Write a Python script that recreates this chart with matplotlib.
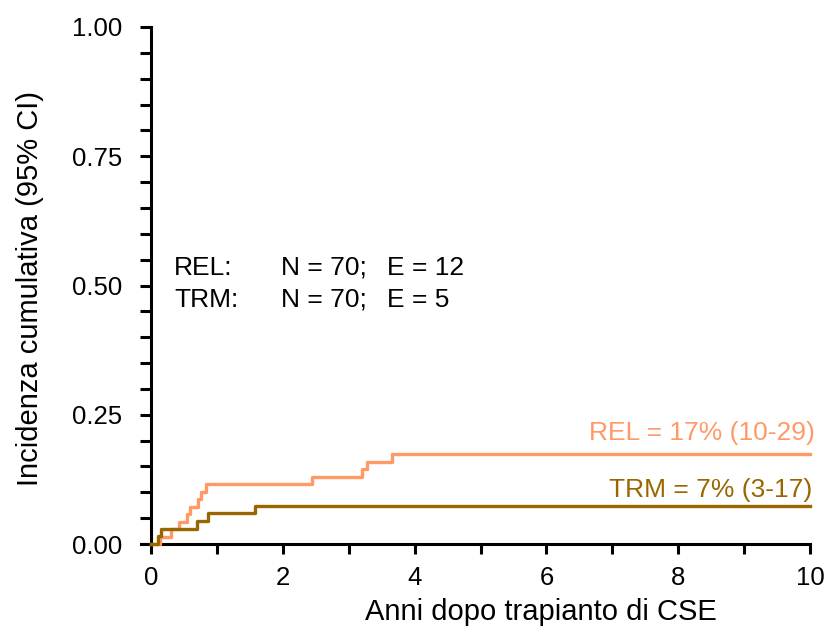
import matplotlib
matplotlib.use("Agg")
import matplotlib.pyplot as plt
from matplotlib.ticker import MultipleLocator

plt.rcParams['font.family'] = ['Liberation Sans', 'DejaVu Sans']

# Cumulative incidence curves (step functions)
rel_times = [0, 0.13, 0.30, 0.43, 0.55, 0.59, 0.71, 0.76, 0.84, 2.44, 3.20, 3.27, 3.65, 10]
rel_values = [0, 0.0145, 0.029, 0.0435, 0.058, 0.0725, 0.087, 0.1015, 0.116,
              0.1305, 0.145, 0.1595, 0.174, 0.174]

trm_times = [0, 0.11, 0.15, 0.70, 0.86, 1.58, 10]
trm_values = [0, 0.0148, 0.0296, 0.0444, 0.0592, 0.074, 0.074]

rel_color = '#FF9966'
trm_color = '#996600'

fig = plt.figure(figsize=(8.24, 6.26), dpi=100)
ax = fig.add_axes([141 / 824, 1 - 544 / 626, (810 - 141) / 824, (544 - 27) / 626])

ax.step(rel_times, rel_values, where='post', color=rel_color, lw=2.4, clip_on=False, zorder=3)
ax.step(trm_times, trm_values, where='post', color=trm_color, lw=2.4, clip_on=False, zorder=3)

ax.set_xlim(-0.152, 10)
ax.set_ylim(0, 1)
ax.spines['left'].set_position(('data', 0))
ax.spines['top'].set_visible(False)
ax.spines['right'].set_visible(False)
for s in ['left', 'bottom']:
    ax.spines[s].set_linewidth(2.2)

ax.set_xticks([0, 2, 4, 6, 8, 10])
ax.xaxis.set_minor_locator(MultipleLocator(1))
ax.set_yticks([0, 0.25, 0.5, 0.75, 1.0])
ax.set_yticklabels(['0.00', '0.25', '0.50', '0.75', '1.00'])
ax.yaxis.set_minor_locator(MultipleLocator(0.05))
ax.tick_params(axis='both', which='both', width=2.2, labelsize=18.5)
ax.tick_params(axis='x', which='both', length=7, pad=9)
ax.tick_params(axis='y', which='both', length=8, pad=12.5)

ax.set_xlabel('Anni dopo trapianto di CSE', fontsize=21)
ax.xaxis.set_label_coords(0.598, -0.1315)
ax.xaxis.label.set_va('center')
ax.set_ylabel('Incidenza cumulativa (95% CI)', fontsize=21)
ax.yaxis.set_label_coords(-0.166, 0.495)
ax.yaxis.label.set_va('center')

fs = 19
ax.text(0.35, 0.534, 'REL:', fontsize=fs, va='center')
ax.text(1.97, 0.534, 'N = 70;', fontsize=fs, va='center')
ax.text(3.58, 0.534, 'E = 12', fontsize=fs, va='center')
ax.text(0.35, 0.472, 'TRM:', fontsize=fs, va='center')
ax.text(1.97, 0.472, 'N = 70;', fontsize=fs, va='center')
ax.text(3.58, 0.472, 'E = 5', fontsize=fs, va='center')

ax.text(10.07, 0.215, 'REL = 17% (10-29)', fontsize=fs, color=rel_color, ha='right', va='center')
ax.text(10.03, 0.105, 'TRM = 7% (3-17)', fontsize=fs, color=trm_color, ha='right', va='center')

fig.savefig('out.png', dpi=100)
